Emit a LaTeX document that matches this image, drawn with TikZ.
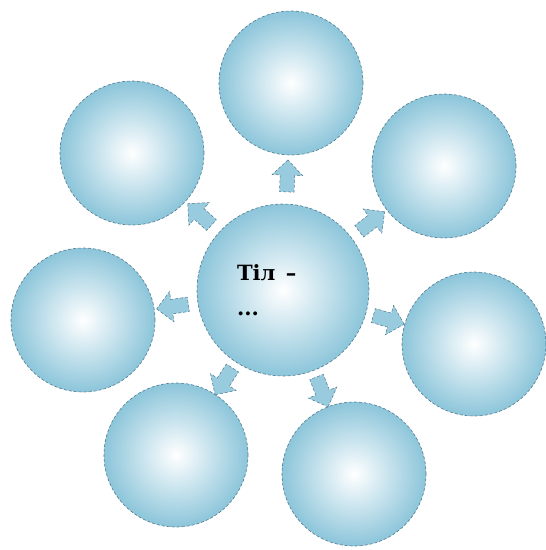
\documentclass[tikz,border=0pt]{standalone}
\usepackage{fontspec}
\setmainfont{DejaVu Serif}
\usetikzlibrary{shapes.arrows}
\definecolor{bubble}{RGB}{140,197,218}
\definecolor{rim}{RGB}{80,122,142}
\definecolor{arrowfill}{RGB}{152,203,222}
\begin{document}
\begin{tikzpicture}[x=1pt, y=-1pt,
  ball/.style={circle, draw=rim, densely dashed, line width=0.6pt, shading=radial,
    inner color=white, outer color=bubble, minimum size=144pt, inner sep=0pt},
  fatarrow/.style={single arrow, draw=rim, densely dashed, line width=0.5pt, fill=arrowfill,
    minimum height=32pt, minimum width=30pt, single arrow head extend=8pt,
    inner xsep=0pt, inner ysep=7pt, sloped, allow upside down}]
  \useasboundingbox (0,0) rectangle (546,550);
  \node[ball, minimum size=172pt, align=left, text width=92pt,
    font=\bfseries\fontsize{21}{35}\selectfont] (hub) at (283,290) {Тіл\enspace–\\...};
  \node[ball] (top) at (291,83) {};
  \node[ball] (topleft) at (132,153) {};
  \node[ball] (topright) at (444,166) {};
  \node[ball] (left) at (83,320) {};
  \node[ball] (right) at (474,344) {};
  \node[ball] (botleft) at (176,455) {};
  \node[ball] (botright) at (354,474) {};
  % arrows from the hub
  \path (hub) -- node[fatarrow] {} (top);
  \path (hub) -- node[fatarrow] {} (topleft);
  \path (hub) -- node[fatarrow] {} (topright);
  \path (hub) -- node[fatarrow] {} (left);
  \path (hub) -- node[fatarrow] {} (right);
  \path (hub) -- node[fatarrow] {} (botleft);
  \path (hub) -- node[fatarrow] {} (botright);
\end{tikzpicture}
\end{document}
